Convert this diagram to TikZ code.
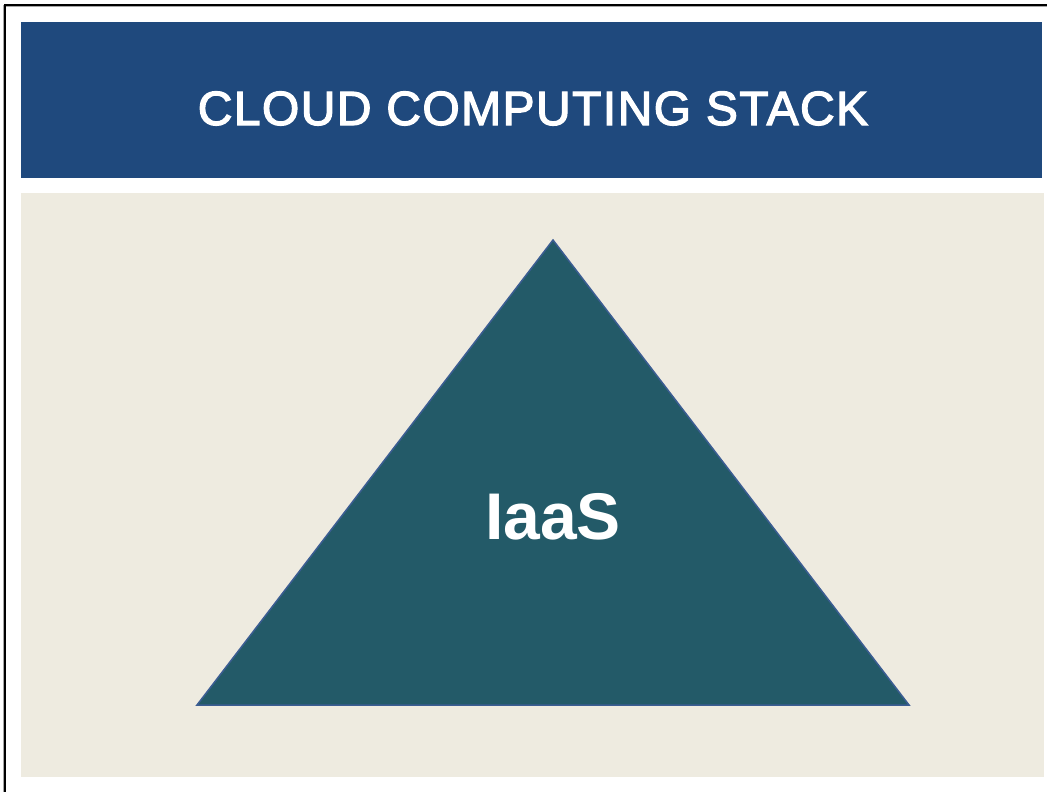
\documentclass[tikz,border=0pt]{standalone}
\usepackage{fontspec}
\setmainfont{Liberation Sans}
\newfontfamily\bannerfont[LetterSpace=3, FakeBold=2.6]{Liberation Sans}
\definecolor{headblue}{HTML}{1F497D}
\definecolor{panel}{HTML}{EEEBE0}
\definecolor{pyrfill}{HTML}{235A68}
\definecolor{pyredge}{HTML}{3B5D92}
\tikzset{
  frameline/.style={line width=2pt, black},
  shadeline/.style={line width=1pt, gray!70},
  titletext/.style={text=white, font=\bannerfont\fontsize{48}{55}\selectfont, inner sep=0pt},
  layertext/.style={text=white, font=\bfseries\fontsize{66}{74}\selectfont, inner sep=0pt},
}
\begin{document}
\begin{tikzpicture}[x=1pt, y=-1pt]
  \useasboundingbox[fill=white] (0,0) rectangle (1047,792);
  % outer frame (left and top edges)
  \draw[shadeline] (3.5,5) -- (3.5,792);
  \draw[shadeline] (5,6.5) -- (1047,6.5);
  \draw[frameline] (5,4) -- (5,792);
  \draw[frameline] (4,5) -- (1047,5);
  % title banner
  \fill[headblue] (21,22) rectangle (1042,178);
  \node[titletext, anchor=base] (title) at (533,125) {CLOUD COMPUTING STACK};
  % content panel
  \fill[panel] (21,193) rectangle (1044,777);
  % pyramid
  \coordinate (apex) at (553,240);
  \coordinate (bl) at (197,705);
  \coordinate (br) at (909,705);
  \draw[fill=pyrfill, draw=pyredge, line width=1.5pt, line join=miter] (apex) -- (br) -- (bl) -- cycle;
  \node[layertext, anchor=base] (iaas) at (553,539) {IaaS};
\end{tikzpicture}
\end{document}
